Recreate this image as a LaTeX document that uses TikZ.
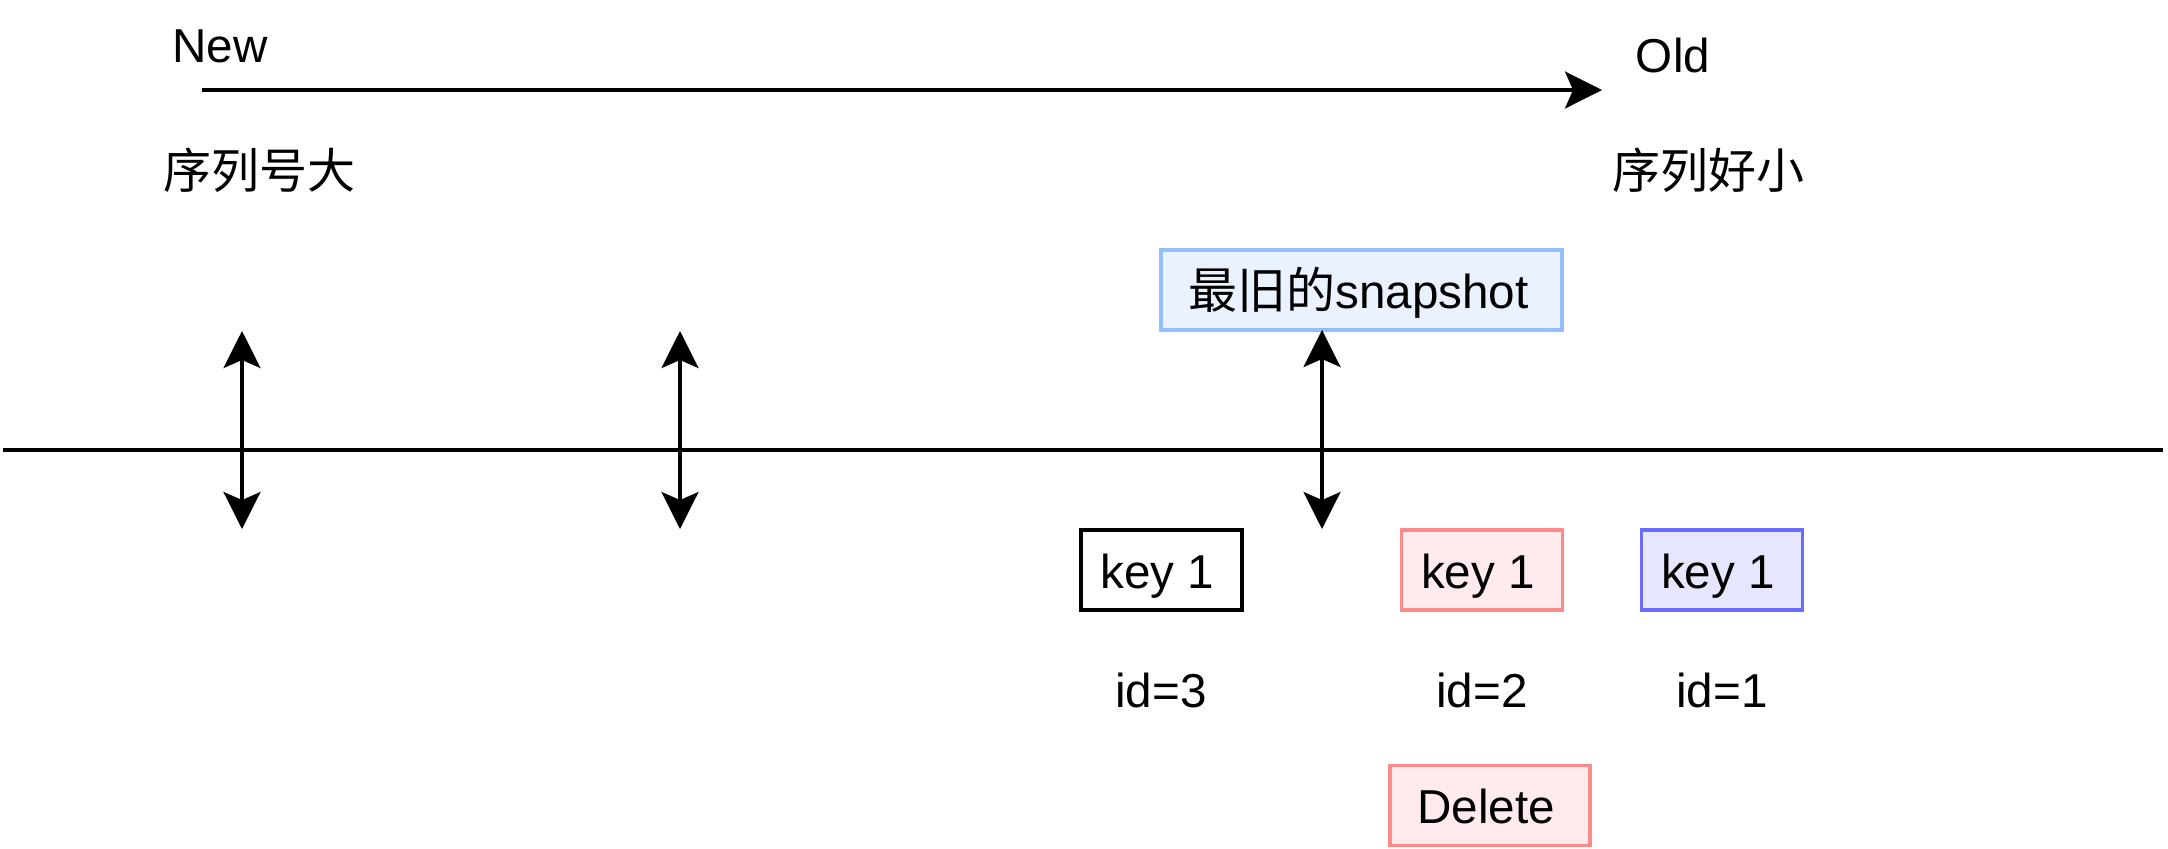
\documentclass[tikz,border=0pt]{standalone}
\usepackage{fontspec}
\setmainfont{Liberation Sans}
\newfontfamily\cjk{Noto Sans CJK SC}
\usetikzlibrary{arrows.meta}
\definecolor{snapfill}{HTML}{EAF2FF}
\definecolor{snapdraw}{HTML}{92BEFF}
\definecolor{pinkfill}{HTML}{FFEBEE}
\definecolor{pinkdraw}{HTML}{FF8A8A}
\definecolor{bluefill}{HTML}{E6E6FF}
\definecolor{bluedraw}{HTML}{6B6BFF}
\tikzset{
  lbl/.style={inner sep=0pt, font=\fontsize{23.8pt}{28pt}\selectfont, anchor=base},
  cjklbl/.style={inner sep=0pt, font=\fontsize{24pt}{28pt}\selectfont\cjk, anchor=base},
  boxnode/.style={draw, line width=1.6pt, minimum width=80.5pt, minimum height=40pt,
    inner sep=0pt, text height=18pt, text depth=0pt,
    font=\fontsize{23.8pt}{28pt}\selectfont},
  conn/.style={line width=1.8pt},
  tipconn/.style={line width=1.7pt, {Stealth[length=18.5pt,width=18.5pt,inset=4pt]}-{Stealth[length=18.5pt,width=18.5pt,inset=4pt]}},
  onetip/.style={line width=1.7pt, -{Stealth[length=18.5pt,width=18.5pt,inset=4pt]}}
}
\begin{document}
\begin{tikzpicture}[x=0.5pt,y=-0.5pt]
\useasboundingbox (0,0) rectangle (2168,848);
% top arrow
\coordinate (ts) at (202,90);
\coordinate (te) at (1602,90);
\draw[onetip] (ts) -- (te);
\node[lbl] (new) at (220,62) {New};
\node[lbl] (old) at (1673,72) {Old};
\node[cjklbl] (big) at (259,188) {序列号大};
\node[cjklbl] (small) at (1708,188) {序列好小};
% timeline
\coordinate (ls) at (3,450);
\coordinate (le) at (2163,450);
\draw[conn] (ls) -- (le);
% vertical arrows
\coordinate (a1t) at (242,331);
\coordinate (a1b) at (242,529);
\coordinate (a2t) at (680,331);
\coordinate (a2b) at (680,529);
\draw[tipconn] (a1t) -- (a1b);
\draw[tipconn] (a2t) -- (a2b);
% snapshot box
\node[boxnode, draw=snapdraw, fill=snapfill, minimum width=200.5pt] (snap) at (1361.5,290) {{\cjk\fontsize{24.5pt}{28pt}\selectfont 最旧的}snapshot\hspace*{3pt}};
\coordinate (a3t) at (1322,330);
\coordinate (a3b) at (1322,529);
\draw[tipconn] (a3t) -- (a3b);
% key boxes
\node[boxnode] (k3) at (1161.5,570) {key 1\hspace*{4pt}};
\node[boxnode, draw=pinkdraw, fill=pinkfill] (k2) at (1482,570) {key 1\hspace*{4pt}};
\node[boxnode, draw=bluedraw, fill=bluefill] (k1) at (1722,570) {key 1\hspace*{4pt}};
\node[lbl] (id3) at (1161,707) {id=3};
\node[lbl] (id2) at (1482,707) {id=2};
\node[lbl] (id1) at (1722,707) {id=1};
\node[boxnode, draw=pinkdraw, fill=pinkfill, minimum width=100pt] (del) at (1490,805.5) {Delete\hspace*{4pt}};
\end{tikzpicture}
\end{document}
